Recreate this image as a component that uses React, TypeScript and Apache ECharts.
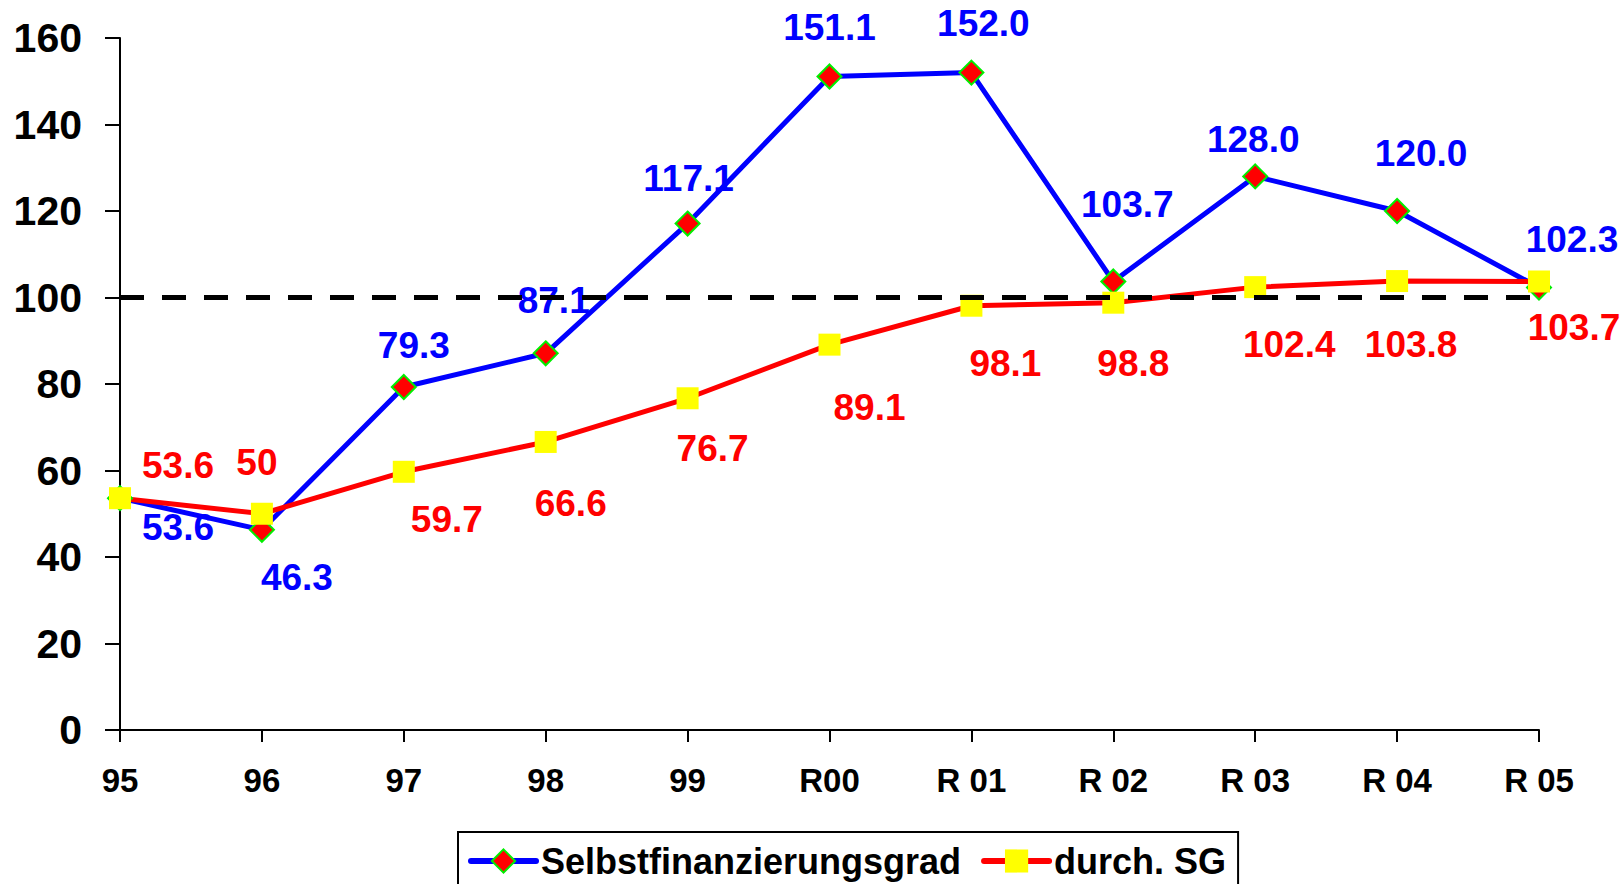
import React, { useEffect, useRef } from "react";
import * as echarts from "echarts";

const categories = ["95", "96", "97", "98", "99", "R00", "R 01", "R 02", "R 03", "R 04", "R 05"];
const selbstValues = [53.6, 46.3, 79.3, 87.1, 117.1, 151.1, 152.0, 103.7, 128.0, 120.0, 102.3];
const durchValues = [53.6, 50, 59.7, 66.6, 76.7, 89.1, 98.1, 98.8, 102.4, 103.8, 103.7];
const referenceLevel = 100;
const yTicks = { min: 0, max: 160, interval: 20 };

// label placement (layout only)
const selbstLabelOffsets = [
  [58, 29], [35, 48], [10, -42], [8, -53], [1, -45], [0, -49],
  [12, -49], [14, -77], [-2, -37], [24, -58], [33, -48],
];
const durchLabelOffsets = [
  [58, -33], [-5, -51], [43, 48], [25, 62], [25, 50], [40, 63],
  [34, 58], [20, 61], [34, 57], [14, 63], [35, 46],
];

const FONT = "Liberation Sans, Arial, sans-serif";

export default function App() {
  const ref = useRef<HTMLDivElement>(null);
  useEffect(() => {
    if (!ref.current) return;
    const chart = echarts.init(ref.current, null, { renderer: "svg" });
    chart.setOption({
      animation: false,
      backgroundColor: "#ffffff",
      textStyle: { fontFamily: FONT },
      grid: { left: 120, right: 85, top: 38, bottom: 154, containLabel: false },
      legend: {
        data: ["Selbstfinanzierungsgrad", "durch. SG"],
        left: 458,
        top: 832,
        orient: "horizontal",
        borderColor: "#000000",
        borderWidth: 2,
        padding: [11, 12, 12, 10],
        itemWidth: 65,
        itemHeight: 29,
        itemGap: 20,
        lineStyle: { width: 6, cap: "round" },
        textStyle: { fontFamily: FONT, fontSize: 36, fontWeight: "bold", color: "#000000" },
      },
      xAxis: [
        {
          type: "category",
          data: categories,
          boundaryGap: false,
          axisLine: { lineStyle: { color: "#000000", width: 2 } },
          axisTick: { length: 12, lineStyle: { color: "#000000", width: 2 } },
          axisLabel: { fontFamily: FONT, fontSize: 33, fontWeight: "bold", color: "#000000", margin: 34 },
          splitLine: { show: false },
        },
        { type: "value", min: 0, max: 10, show: false },
      ],
      yAxis: {
        type: "value",
        min: yTicks.min,
        max: yTicks.max,
        interval: yTicks.interval,
        axisLine: { show: true, lineStyle: { color: "#000000", width: 2 } },
        axisTick: { show: true, length: 15, lineStyle: { color: "#000000", width: 2 } },
        axisLabel: { fontFamily: FONT, fontSize: 41, fontWeight: "bold", color: "#000000", margin: 38 },
        splitLine: { show: false },
      },
      series: [
        {
          name: "Selbstfinanzierungsgrad",
          type: "line",
          data: selbstValues.map((v, i) => ({ value: v, label: { offset: selbstLabelOffsets[i] } })),
          symbol: "diamond",
          symbolSize: 24,
          lineStyle: { color: "#0000ff", width: 5 },
          itemStyle: { color: "#ff0000", borderColor: "#00ee00", borderWidth: 2 },
          label: {
            show: true,
            position: "inside",
            formatter: (p: any) => Number(p.value).toFixed(1),
            color: "#0000ff",
            fontFamily: FONT,
            fontSize: 37,
            fontWeight: "bold",
          },
        },
        {
          name: "durch. SG",
          type: "line",
          data: durchValues.map((v, i) => ({ value: v, label: { offset: durchLabelOffsets[i] } })),
          symbol: "rect",
          symbolSize: 22,
          lineStyle: { color: "#ff0000", width: 5 },
          itemStyle: { color: "#ffff00", borderWidth: 0 },
          label: {
            show: true,
            position: "inside",
            formatter: (p: any) => String(p.value),
            color: "#ff0000",
            fontFamily: FONT,
            fontSize: 37,
            fontWeight: "bold",
          },
        },
        {
          name: "ref",
          type: "line",
          xAxisIndex: 1,
          data: [[0, referenceLevel], [10.6, referenceLevel]],
          clip: false,
          symbol: "none",
          silent: true,
          lineStyle: { color: "#000000", width: 5, type: [24, 18] },
          z: 5,
        },
      ],
    });
    return () => chart.dispose();
  }, []);
  return <div ref={ref} style={{ position: "fixed", left: 0, top: 0, width: 1624, height: 884 }} />;
}
